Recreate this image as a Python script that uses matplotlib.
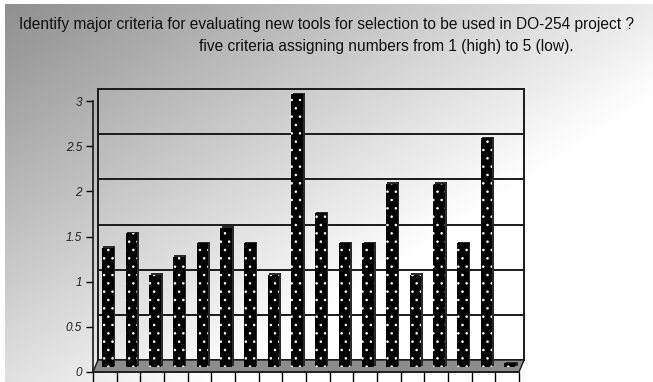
import numpy as np
import matplotlib
matplotlib.use('Agg')
import matplotlib.pyplot as plt
import matplotlib.transforms as mtransforms
from matplotlib.patches import Polygon
from matplotlib import font_manager

# data
criteria = list(range(1, 19))
ratings = [1.32, 1.48, 1.02, 1.22, 1.37, 1.54, 1.37, 1.02, 3.02,
           1.70, 1.37, 1.37, 2.03, 1.02, 2.03, 1.37, 2.53, 0.04]
yticks = [0, 0.5, 1, 1.5, 2, 2.5, 3]
yticklabels = ['0', '0.5', '1', '1.5', '2', '2.5', '3']
title1 = "Identify major criteria for evaluating new tools for selection to be used in DO-254 project ?"
title2 = "five criteria assigning numbers from 1 (high) to 5 (low)."

names = {f.name for f in font_manager.fontManager.ttflist}
font = 'Liberation Sans Narrow' if 'Liberation Sans Narrow' in names else 'Liberation Sans'
plt.rcParams['font.family'] = [font, 'DejaVu Sans']
plt.rcParams['hatch.linewidth'] = 0.6

W, H = 653, 382
fig = plt.figure(figsize=(W / 100, H / 100), dpi=100)

# grey gradient background (thin white margin on top and left)
bg = fig.add_axes([5 / W, 0, 1 - 5 / W, 1 - 4 / H], zorder=-5)
xx, yy = np.meshgrid(np.linspace(0, 1, W), np.linspace(0, 1, H))
shade = np.clip(0.56 + 0.36 * xx + 0.32 * yy, 0, 1)
bg.imshow(shade, cmap='gray', vmin=0, vmax=1, aspect='auto')
bg.axis('off')

ax = fig.add_axes([93 / W, 10 / H, 426 / W, 271 / H])
ax.patch.set_alpha(0)
x = np.arange(len(criteria))
ax.set_xlim(-0.5, len(criteria) - 0.5)
ax.set_ylim(0, 3)

back = ax.transData + mtransforms.ScaledTranslation(0.05, 0.12, fig.dpi_scale_trans)
mid = ax.transData + mtransforms.ScaledTranslation(0.03, 0.05, fig.dpi_scale_trans)
side = ax.transData + mtransforms.ScaledTranslation(0.045, 0.065, fig.dpi_scale_trans)

x0, x1 = -0.5, len(criteria) - 0.5
# back wall grid
for v in yticks:
    ax.plot([x0, x1], [v, v], color='#1a1a1a', lw=1.4, transform=back, clip_on=False, zorder=1)
ax.plot([x0, x0], [0, 3], color='#1a1a1a', lw=1.4, transform=back, clip_on=False, zorder=1)
ax.plot([x1, x1], [0, 3], color='#1a1a1a', lw=1.4, transform=back, clip_on=False, zorder=1)

# floor
dx, dy = 5 / 23.67, 12 / 90.3
floor = Polygon([(x0, 0), (x1, 0), (x1 + dx, dy), (x0 + dx, dy)], closed=True,
                facecolor='#8c8c8c', edgecolor='#1a1a1a', lw=1.0, clip_on=False, zorder=2)
ax.add_patch(floor)

# bars with a dark side face
ax.bar(x, ratings, width=0.5, color='#2a2a2a', transform=side, clip_on=False, zorder=3)
ax.bar(x, ratings, width=0.5, color='black', edgecolor='white', linewidth=0,
       hatch='..', transform=mid, clip_on=False, zorder=4)

ax.set_yticks(yticks)
ax.set_yticklabels(yticklabels, fontsize=8.5, style='italic', color='#222222')
ax.set_xticks(np.arange(len(criteria) + 1) - 0.5)
ax.set_xticklabels([])
ax.tick_params(axis='y', direction='out', length=5, width=1, pad=3)
ax.tick_params(axis='x', direction='out', length=9, width=1)
for s in ['top', 'right']:
    ax.spines[s].set_visible(False)
for s in ['left', 'bottom']:
    ax.spines[s].set_color('#1a1a1a')
    ax.spines[s].set_linewidth(1.2)

fig.text(327 / W, 1 - 25 / H, title1, ha='center', va='center', fontsize=11.2, color='#111111')
fig.text(386 / W, 1 - 47 / H, title2, ha='center', va='center', fontsize=11.2, color='#111111')

fig.savefig('out.png', dpi=100)
